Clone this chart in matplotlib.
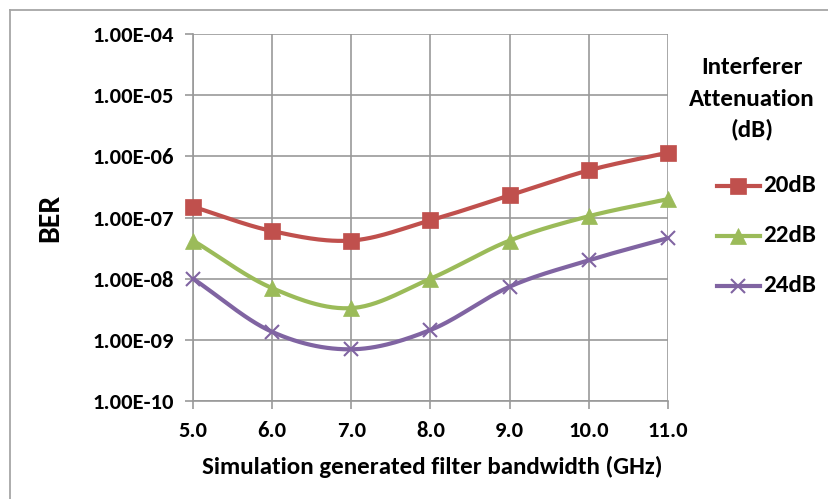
import numpy as np
import matplotlib
matplotlib.use("Agg")
import matplotlib.pyplot as plt
from matplotlib.lines import Line2D

bandwidth = [5.0, 6.0, 7.0, 8.0, 9.0, 10.0, 11.0]
ber_20db = [1.5e-7, 6.0e-8, 4.2e-8, 9.0e-8, 2.3e-7, 5.9e-7, 1.15e-6]
ber_22db = [4.2e-8, 7.0e-9, 3.3e-9, 1.0e-8, 4.2e-8, 1.05e-7, 2.0e-7]
ber_24db = [1.0e-8, 1.35e-9, 7.0e-10, 1.45e-9, 7.4e-9, 2.0e-8, 4.6e-8]
series_labels = ["20dB", "22dB", "24dB"]
y_ticks = [1e-10, 1e-9, 1e-8, 1e-7, 1e-6, 1e-5, 1e-4]
y_tick_labels = ["1.00E-10", "1.00E-09", "1.00E-08", "1.00E-07",
                 "1.00E-06", "1.00E-05", "1.00E-04"]
x_tick_labels = ["5.0", "6.0", "7.0", "8.0", "9.0", "10.0", "11.0"]

plt.rcParams['font.family'] = ['Carlito', 'DejaVu Sans']
plt.rcParams['font.weight'] = 'bold'

def smooth(xs, ys, n=30):
    # Excel-like smoothed line: Catmull-Rom through points in log space
    x = np.asarray(xs, float)
    y = np.log10(np.asarray(ys, float))
    px = np.concatenate([[2*x[0]-x[1]], x, [2*x[-1]-x[-2]]])
    py = np.concatenate([[2*y[0]-y[1]], y, [2*y[-1]-y[-2]]])
    ox, oy = [], []
    t = np.linspace(0, 1, n)
    for i in range(1, len(px)-2):
        p0, p1, p2, p3 = [np.array([px[j], py[j]]) for j in (i-1, i, i+1, i+2)]
        m1 = (p2 - p0) / 2
        m2 = (p3 - p1) / 2
        h00 = 2*t**3 - 3*t**2 + 1
        h10 = t**3 - 2*t**2 + t
        h01 = -2*t**3 + 3*t**2
        h11 = t**3 - t**2
        pts = (np.outer(h00, p1) + np.outer(h10, m1) + np.outer(h01, p2) + np.outer(h11, m2))
        ox.extend(pts[:, 0]); oy.extend(pts[:, 1])
    return np.array(ox), 10**np.array(oy)

W, H = 829, 499
fig = plt.figure(figsize=(W/100, H/100), dpi=100)
ax = fig.add_axes([193/W, 1-401/H, (668-193)/W, (401-34)/H])

colors = ["#C0504D", "#9BBB59", "#8064A2"]
markers = ["s", "^", "x"]
msizes = [12, 12, 10]
mews = [0.5, 0.5, 1.5]
data = [ber_20db, ber_22db, ber_24db]
for d, c, m, ms, mw in zip(data, colors, markers, msizes, mews):
    sx, sy = smooth(bandwidth, d)
    ax.plot(sx, sy, color=c, lw=3, zorder=3, solid_capstyle='round')
    ax.plot(bandwidth, d, linestyle='none', marker=m, color=c, ms=ms,
            mew=mw, zorder=4, clip_on=False)

ax.set_yscale('log')
ax.set_ylim(1e-10, 1e-4)
ax.set_xlim(5.0, 11.0)
ax.set_yticks(y_ticks)
ax.set_yticklabels(y_tick_labels)
ax.yaxis.set_minor_locator(matplotlib.ticker.NullLocator())
ax.set_xticks(bandwidth)
ax.set_xticklabels(x_tick_labels)
ax.grid(True, color="#999999", lw=1.2)
ax.set_axisbelow(True)
for s in ax.spines.values():
    s.set_visible(False)
for k in ('left', 'bottom'):
    ax.spines[k].set_visible(True)
    ax.spines[k].set_color("#999999")
    ax.spines[k].set_linewidth(1.2)
ax.tick_params(axis='both', direction='out', length=6, color="#999999", width=1.2,
               labelsize=16.3, labelcolor='black')
ax.tick_params(axis='y', pad=8)
ax.tick_params(axis='x', pad=8.5)
for lbl in ax.get_xticklabels() + ax.get_yticklabels():
    lbl.set_fontweight('bold')

fig.text(50/W, 1-218/H, "BER", rotation=90, ha='center', va='center',
         fontsize=21.5, fontweight='bold')
fig.text(432/W, 1-467/H, "Simulation generated filter bandwidth (GHz)",
         ha='center', va='center', fontsize=18, fontweight='bold')

for txt, yc in zip(["Interferer", "Attenuation", "(dB)"], [68, 99, 129]):
    fig.text(752/W, 1-yc/H, txt, ha='center', va='center',
             fontsize=18, fontweight='bold')

for lab, c, m, ms, mw, yc in zip(series_labels, colors, markers, msizes, mews, [186, 236, 286]):
    yy = 1-yc/H
    fig.add_artist(Line2D([717/W, 738.5/W, 760/W], [yy, yy, yy], color=c, lw=3,
                          marker=m, ms=ms, mew=mw, markevery=[1],
                          transform=fig.transFigure))
    fig.text(763/W, yy, lab, ha='left', va='center', fontsize=18, fontweight='bold')

fig.add_artist(Line2D([10/W, 1], [1-10/H, 1-10/H], color="#a6a6a6", lw=1.3,
                      transform=fig.transFigure))
fig.add_artist(Line2D([10/W, 10/W], [0, 1-10/H], color="#a6a6a6", lw=1.3,
                      transform=fig.transFigure))

fig.savefig("out.png", dpi=100)
